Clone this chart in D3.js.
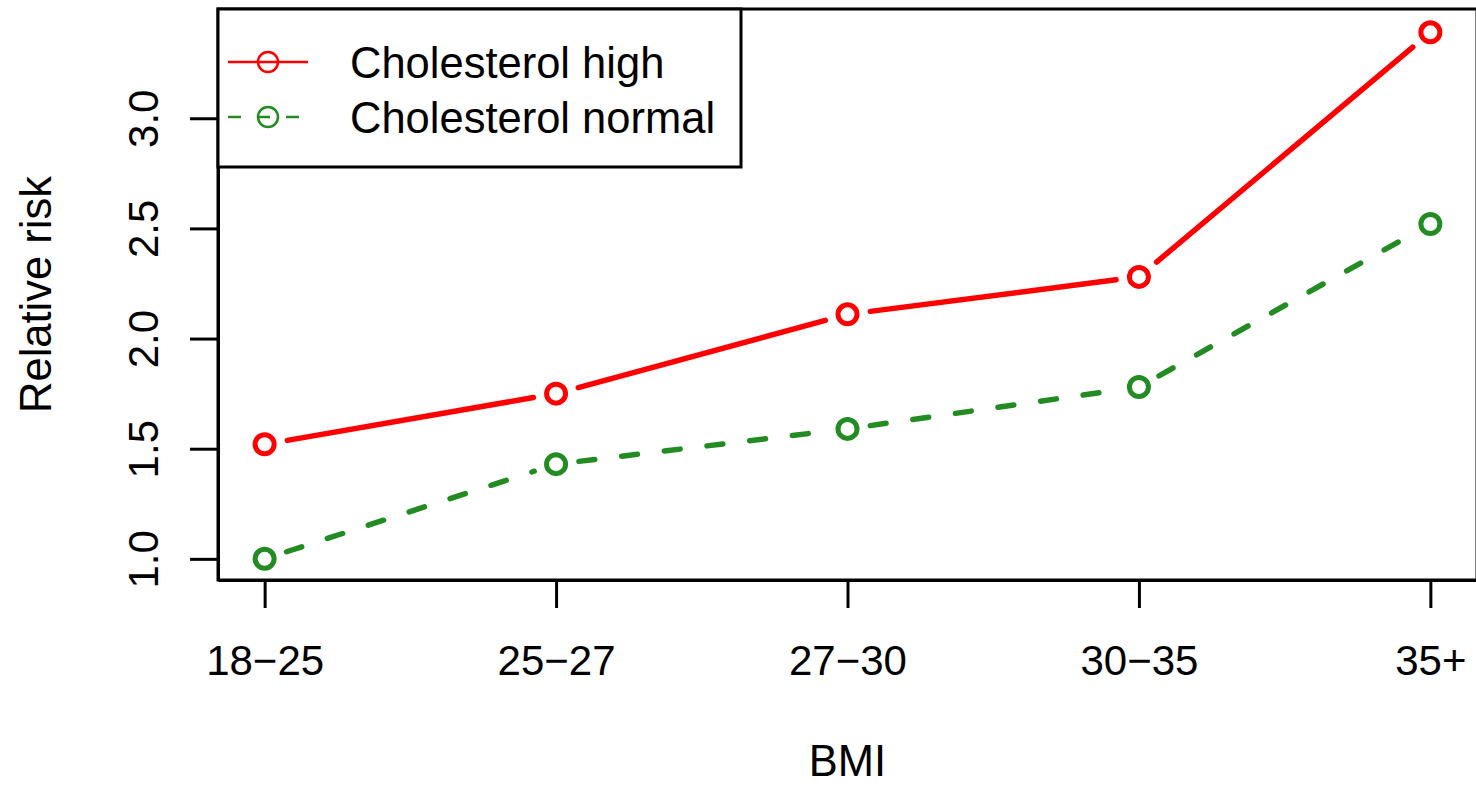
<!DOCTYPE html>
<html>
<head>
<meta charset="utf-8">
<script src="https://cdn.jsdelivr.net/npm/d3@7"></script>
<style>
  body { margin: 0; background: #fff; }
  text { font-family: "Liberation Sans", Arial, sans-serif; }
</style>
</head>
<body>
<svg id="paper"></svg>
<script>
// values
let categories = ["18\u221225", "25\u221227", "27\u221230", "30\u221235", "35+"];
let highValues = [1.52, 1.75, 2.11, 2.28, 3.39];
let normalValues = [1.00, 1.43, 1.59, 1.78, 2.52];
let yTicks = [1.0, 1.5, 2.0, 2.5, 3.0];
let seriesNames = ["Cholesterol high", "Cholesterol normal"];

let width = 1476, height = 786;
let plot = {left: 218, right: 1477, top: 9, bottom: 580};
let fontSize = 42;
let labelSize = 43.5;

let svg = d3.select("#paper")
    .attr("width", width)
    .attr("height", height);

let x = d3.scaleLinear().domain([0.84, 5.16]).range([plot.left, plot.right]);
let y = d3.scaleLinear().domain([0.904, 3.496]).range([plot.bottom, plot.top]);

// y axis
let yAxis = svg.append("g")
    .attr("transform", "translate(" + plot.left + ",0)")
    .call(d3.axisLeft(y).tickValues(yTicks).tickSize(28).tickSizeOuter(0)
        .tickFormat(d3.format(".1f")));
yAxis.select(".domain").attr("stroke-width", 3);
yAxis.selectAll(".tick line").attr("stroke-width", 3);
yAxis.selectAll(".tick text")
    .attr("x", null).attr("dy", null)
    .attr("transform", "translate(-60,0) rotate(-90)")
    .style("text-anchor", "middle")
    .style("font-size", fontSize + "px")
    .attr("fill", "#000");

// x axis
let xAxis = svg.append("g")
    .attr("transform", "translate(0," + plot.bottom + ")")
    .call(d3.axisBottom(x).tickValues([1, 2, 3, 4, 5]).tickSize(28).tickSizeOuter(0)
        .tickFormat((d, i) => categories[i]));
xAxis.select(".domain").attr("stroke-width", 3);
xAxis.selectAll(".tick line").attr("stroke-width", 3);
xAxis.selectAll(".tick text")
    .attr("y", 95).attr("dy", null)
    .style("font-size", fontSize + "px")
    .attr("fill", "#000");

// axis titles
svg.append("text")
    .attr("x", (plot.left + plot.right) / 2)
    .attr("y", 776)
    .style("text-anchor", "middle")
    .style("font-size", labelSize + "px")
    .text("BMI");
svg.append("text")
    .attr("transform", "translate(51," + ((plot.top + plot.bottom) / 2) + ") rotate(-90)")
    .style("text-anchor", "middle")
    .style("font-size", labelSize + "px")
    .text("Relative risk");

// series, drawn like type = "b": segments with gaps around points
function drawSeries(values, color, dash) {
    let pts = values.map((v, i) => [x(i + 1), y(v)]);
    let gap = 23;
    for (let i = 0; i < pts.length - 1; i++) {
        let [x1, y1] = pts[i], [x2, y2] = pts[i + 1];
        let len = Math.hypot(x2 - x1, y2 - y1);
        let ux = (x2 - x1) / len, uy = (y2 - y1) / len;
        svg.append("line")
            .attr("x1", x1 + ux * gap).attr("y1", y1 + uy * gap)
            .attr("x2", x2 - ux * gap).attr("y2", y2 - uy * gap)
            .attr("stroke", color)
            .attr("stroke-width", 5.5)
            .attr("stroke-linecap", "round")
            .attr("stroke-dasharray", dash);
    }
    svg.selectAll(null)
        .data(values)
        .enter()
        .append("circle")
        .attr("cx", (d, i) => x(i + 1))
        .attr("cy", d => y(d))
        .attr("r", 9.5)
        .attr("fill", "none")
        .attr("stroke", color)
        .attr("stroke-width", 5);
}
drawSeries(highValues, "#ff0000", null);
drawSeries(normalValues, "#228b22", "16,27");

// plot box
svg.append("rect")
    .attr("x", plot.left).attr("y", plot.top)
    .attr("width", plot.right - plot.left)
    .attr("height", plot.bottom - plot.top)
    .attr("fill", "none")
    .attr("stroke", "#000")
    .attr("stroke-width", 3);

// legend
let legend = svg.append("g");
legend.append("rect")
    .attr("x", plot.left).attr("y", plot.top)
    .attr("width", 741 - plot.left).attr("height", 167 - plot.top)
    .attr("fill", "#fff")
    .attr("stroke", "#000")
    .attr("stroke-width", 3);
let legendRows = [
    {name: seriesNames[0], color: "#ff0000", dash: null, y: 62},
    {name: seriesNames[1], color: "#228b22", dash: "13,16", y: 117}
];
legendRows.forEach(r => {
    legend.append("line")
        .attr("x1", 228).attr("x2", 308)
        .attr("y1", r.y).attr("y2", r.y)
        .attr("stroke", r.color)
        .attr("stroke-width", 2.5)
        .attr("stroke-dasharray", r.dash);
    legend.append("circle")
        .attr("cx", 268).attr("cy", r.y)
        .attr("r", 10)
        .attr("fill", "none")
        .attr("stroke", r.color)
        .attr("stroke-width", 2.5);
    legend.append("text")
        .attr("x", 350)
        .attr("y", r.y + labelSize * 0.36)
        .style("font-size", labelSize + "px")
        .text(r.name);
});
</script>
</body>
</html>
